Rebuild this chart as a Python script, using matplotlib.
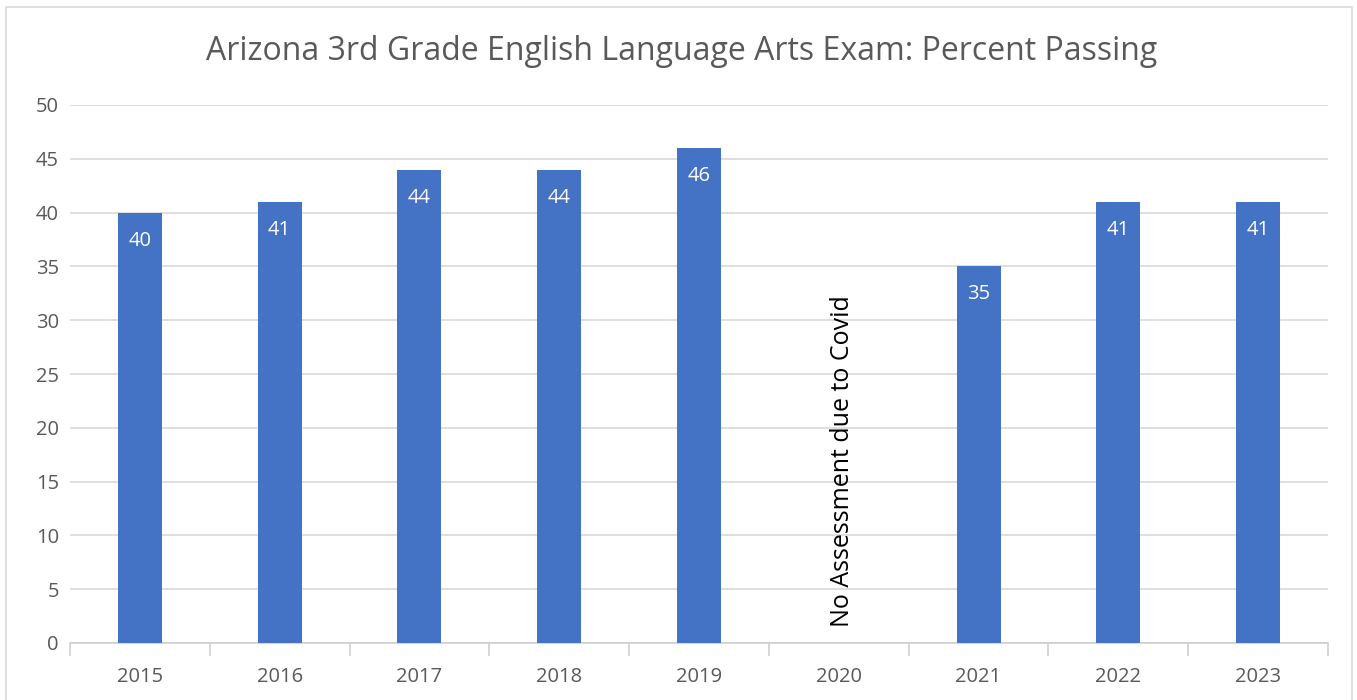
import matplotlib.pyplot as plt
from matplotlib.patches import Rectangle

years = ["2015", "2016", "2017", "2018", "2019", "2020", "2021", "2022", "2023"]
passing = [40, 41, 44, 44, 46, None, 35, 41, 41]
covid_note = "No Assessment due to Covid"
title = "Arizona 3rd Grade English Language Arts Exam: Percent Passing"

plt.rcParams['font.family'] = ['Open Sans', 'DejaVu Sans']
text_gray = '#595959'
bar_blue = '#4472C4'

fig = plt.figure(figsize=(13.57, 7), dpi=100)
ax = fig.add_axes([70 / 1357, 1 - 643 / 700, 1258 / 1357, 538 / 700])

# figure border like the Excel chart area
fig.patches.append(Rectangle((6 / 1357, -0.01), 1346 / 1357, 1 - 7 / 700 + 0.01,
                             transform=fig.transFigure, fill=False,
                             edgecolor='#D9D9D9', lw=1.2))

xs = list(range(len(years)))
for x, v in zip(xs, passing):
    if v is None:
        ax.text(x + 0.03, 1.5, covid_note, rotation=90, ha='center', va='bottom',
                fontsize=18, color='black')
        continue
    ax.bar(x, v, width=0.315, color=bar_blue, zorder=3)
    ax.text(x, v - 2.6, str(v), ha='center', va='center', color='white',
            fontsize=14.5, zorder=4)

ax.set_xlim(-0.5, len(years) - 0.5)
ax.set_ylim(0, 50)
ax.set_yticks(range(0, 51, 5))
ax.yaxis.grid(True, color='#D9D9D9', lw=1.2)
ax.set_axisbelow(True)
for s in ['top', 'right', 'left']:
    ax.spines[s].set_visible(False)
ax.spines['bottom'].set_color('#D0D0D0')
ax.spines['bottom'].set_linewidth(1.2)

ax.set_xticks([x + 0.5 for x in [-1] + xs])
ax.set_xticklabels([])
ax.tick_params(axis='x', which='major', length=9, color='#D0D0D0', width=1.2)
ax.set_xticks(xs, minor=True)
ax.set_xticklabels(years, minor=True)
ax.tick_params(axis='x', which='minor', length=0, pad=17, labelsize=14.5,
               labelcolor=text_gray)
ax.tick_params(axis='y', length=0, pad=8, labelsize=14.5, labelcolor=text_gray)

fig.text(682 / 1357, 1 - 52 / 700, title, ha='center', va='center',
         fontsize=23, color=text_gray)

fig.savefig('out.png', dpi=100)
